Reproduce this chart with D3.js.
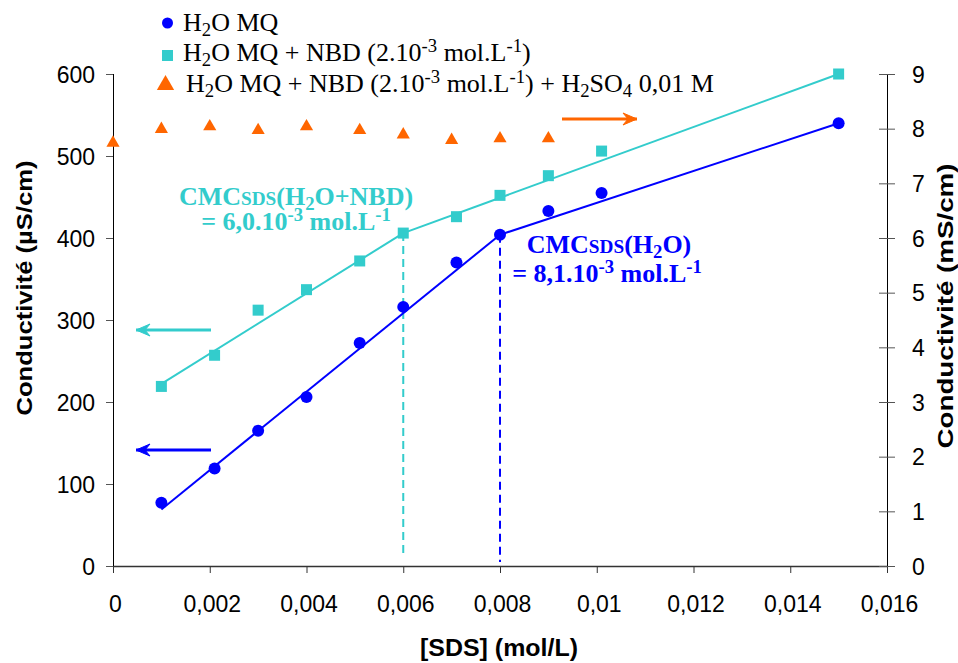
<!DOCTYPE html>
<html><head><meta charset="utf-8">
<script src="https://cdn.jsdelivr.net/npm/d3@7"></script>
<style>
body{margin:0;background:#fff;}
svg{display:block;}
</style></head>
<body>
<svg id="c" width="958" height="663"></svg>
<script>
// ---- data ----
const sdsPts = [0.001,0.0021,0.003,0.004,0.0051,0.006,0.0071,0.008,0.009,0.0101,0.015];
const h2oMQ = [77,119,165,206,272,316,370,404,433,455,540];          // µS/cm
const h2oNBD = [219,257,312,337,372,406,426,452,476,506,600];        // µS/cm
const sdsAcid = [0,0.001,0.002,0.003,0.004,0.0051,0.006,0.007,0.008,0.009];
const h2oNBDAcid = [7.74,7.99,8.04,7.97,8.04,7.97,7.89,7.79,7.82,7.82]; // mS/cm
const fitBlue1 = [[0.001,69],[0.008,404]];
const fitBlue2 = [[0.008,404],[0.015,540]];
const fitCyan1 = [[0.001,222],[0.006,406]];
const fitCyan2 = [[0.006,406],[0.015,600]];
const cmcNBD = 0.006, cmcH2O = 0.008;
const xTicks = [0,0.002,0.004,0.006,0.008,0.01,0.012,0.014,0.016];
const xTickLabels = ["0","0,002","0,004","0,006","0,008","0,01","0,012","0,014","0,016"];
const yLTicks = [0,100,200,300,400,500,600];
const yRTicks = [0,1,2,3,4,5,6,7,8,9];

const BLUE="#0000FF", CYAN="#33CCCC", ORANGE="#FF6600";
const SANS="'Liberation Sans', Arial, sans-serif";
const SERIF="'Liberation Serif', 'Times New Roman', serif";

const svg = d3.select("#c");
const x = d3.scaleLinear().domain([0,0.016]).range([113,887]);
const yL = d3.scaleLinear().domain([0,600]).range([566,74]);
const yR = d3.scaleLinear().domain([0,9]).range([566,74]);

// ---- axes ----
const gx = svg.append("g").attr("transform","translate(0,566)")
  .call(d3.axisBottom(x).tickValues(xTicks).tickSize(7).tickPadding(0)
        .tickFormat((d,i)=>xTickLabels[i]));
gx.selectAll("text").attr("y",46).attr("dy",null).attr("dx",2)
  .attr("font-family",SANS).attr("font-size",23).attr("fill","#000");
gx.select(".domain").attr("d","M113,0.5H887").attr("stroke","#333").attr("stroke-width",1.5);
gx.selectAll(".tick line").attr("stroke","#333");

const gl = svg.append("g").attr("transform","translate(113,0)")
  .call(d3.axisLeft(yL).tickValues(yLTicks).tickSize(7).tickPadding(0));
gl.selectAll("text").attr("x",-18).attr("dy","0.35em")
  .attr("font-family",SANS).attr("font-size",23).attr("fill","#000");
gl.select(".domain").attr("d","M0.5,74V566").attr("stroke","#000");
gl.selectAll(".tick line").attr("stroke","#555");

const gr = svg.append("g").attr("transform","translate(887,0)")
  .call(d3.axisRight(yR).tickValues(yRTicks).tickSize(8).tickPadding(0));
gr.selectAll(".tick line").attr("x1",-8).attr("stroke","#555");
gr.selectAll("text").attr("x",25).attr("dy","0.35em")
  .attr("font-family",SANS).attr("font-size",23).attr("fill","#000");
gr.select(".domain").attr("d","M0.5,74V566").attr("stroke","#000");

// axis titles
svg.append("text").attr("transform","translate(32,288) rotate(-90)")
  .attr("text-anchor","middle").attr("font-family",SANS).attr("font-weight","bold")
  .attr("font-size",22).attr("textLength",255).attr("lengthAdjust","spacingAndGlyphs")
  .text("Conductivité (µS/cm)");
svg.append("text").attr("transform","translate(953,306) rotate(-90)")
  .attr("text-anchor","middle").attr("font-family",SANS).attr("font-weight","bold")
  .attr("font-size",22).attr("textLength",285).attr("lengthAdjust","spacingAndGlyphs")
  .text("Conductivité (mS/cm)");
svg.append("text").attr("x",499).attr("y",656).attr("text-anchor","middle")
  .attr("font-family",SANS).attr("font-weight","bold").attr("font-size",23)
  .attr("textLength",158).attr("lengthAdjust","spacingAndGlyphs")
  .text("[SDS] (mol/L)");

// ---- dashed CMC lines ----
svg.append("line").attr("x1",x(cmcNBD)).attr("x2",x(cmcNBD))
  .attr("y1",yL(406)).attr("y2",yL(13)).attr("stroke",CYAN).attr("stroke-width",2)
  .attr("stroke-dasharray","8,5");
svg.append("line").attr("x1",x(cmcH2O)).attr("x2",x(cmcH2O))
  .attr("y1",yL(404)).attr("y2",yL(5)).attr("stroke",BLUE).attr("stroke-width",2)
  .attr("stroke-dasharray","8,5");

// ---- fit lines ----
const lineL = d3.line().x(d=>x(d[0])).y(d=>yL(d[1]));
[[fitCyan1,CYAN],[fitCyan2,CYAN],[fitBlue1,BLUE],[fitBlue2,BLUE]].forEach(([d,c])=>{
  svg.append("path").attr("d",lineL(d)).attr("fill","none").attr("stroke",c).attr("stroke-width",2);
});

// ---- markers ----
svg.append("g").selectAll("rect").data(sdsPts).join("rect")
  .attr("x",(d)=>x(d)-5.5).attr("y",(d,i)=>yL(h2oNBD[i])-5.5)
  .attr("width",11).attr("height",11).attr("fill",CYAN);
svg.append("g").selectAll("circle").data(sdsPts).join("circle")
  .attr("cx",d=>x(d)).attr("cy",(d,i)=>yL(h2oMQ[i])).attr("r",6).attr("fill",BLUE);
const tri = d3.symbol().type(d3.symbolTriangle).size(75);
svg.append("g").selectAll("path").data(sdsAcid).join("path")
  .attr("d",tri).attr("transform",(d,i)=>`translate(${x(d)},${yR(h2oNBDAcid[i])})`)
  .attr("fill",ORANGE);

// ---- arrows ----
function arrow(x1,x2,yy,color){
  svg.append("line").attr("x1",x1).attr("x2",x2).attr("y1",yy).attr("y2",yy)
    .attr("stroke",color).attr("stroke-width",3);
  const dir = Math.sign(x2-x1);
  svg.append("path").attr("d",`M${x2},${yy} L${x2-dir*14},${yy-6} L${x2-dir*9},${yy} L${x2-dir*14},${yy+6} Z`)
    .attr("fill",color).attr("stroke",color).attr("stroke-width",1);
}
arrow(562,637,119,ORANGE);
arrow(211,136,330,CYAN);
arrow(211,136,450,BLUE);

// ---- rich text helper ----
function rich(g, xx, yy, parts, size, opts={}){
  const t = g.append("text").attr("x",xx).attr("y",yy)
    .attr("font-family",SERIF).attr("font-size",size)
    .attr("fill",opts.fill||"#000").attr("font-weight",opts.weight||"normal")
    .attr("text-anchor",opts.anchor||"start");
  let shift = 0;
  parts.forEach(p=>{
    const [s,m] = Array.isArray(p)?p:[p,"n"];
    let target = 0, fs = size;
    if(m==="sub"){ target = size*0.2; fs = size*0.72; }
    if(m==="sup"){ target = -size*0.36; fs = size*0.72; }
    if(m==="small"){ target = 0; fs = size*0.74; }
    t.append("tspan").attr("dy",target-shift).attr("font-size",fs).text(s);
    shift = target;
  });
  return t;
}

// ---- legend ----
svg.append("circle").attr("cx",167.5).attr("cy",23).attr("r",5.5).attr("fill",BLUE);
svg.append("rect").attr("x",162).attr("y",50).attr("width",11).attr("height",11).attr("fill",CYAN);
svg.append("path").attr("d",d3.symbol().type(d3.symbolTriangle).size(130))
  .attr("transform","translate(165.5,85)").attr("fill",ORANGE);
const lg = svg.append("g");
rich(lg,183,31,["H",["2","sub"],"O MQ"],26);
rich(lg,183,61,["H",["2","sub"],"O MQ + NBD (2.10",["-3","sup"]," mol.L",["-1","sup"],")"],26);
rich(lg,186,92,["H",["2","sub"],"O MQ + NBD (2.10",["-3","sup"]," mol.L",["-1","sup"],") + H",["2","sub"],"SO",["4","sub"]," 0,01 M"],26);

// ---- annotations ----
const an = svg.append("g");
rich(an,296,205,["CMC",["SDS","small"],"(H",["2","sub"],"O+NBD)"],26,{fill:CYAN,weight:"bold",anchor:"middle"});
rich(an,296,230,["= 6,0.10",["-3","sup"]," mol.L",["-1","sup"]],26,{fill:CYAN,weight:"bold",anchor:"middle"});
rich(an,609,253,["CMC",["SDS","small"],"(H",["2","sub"],"O)"],26,{fill:BLUE,weight:"bold",anchor:"middle"});
rich(an,607,282,["= 8,1.10",["-3","sup"]," mol.L",["-1","sup"]],26,{fill:BLUE,weight:"bold",anchor:"middle"});
</script>
</body></html>
